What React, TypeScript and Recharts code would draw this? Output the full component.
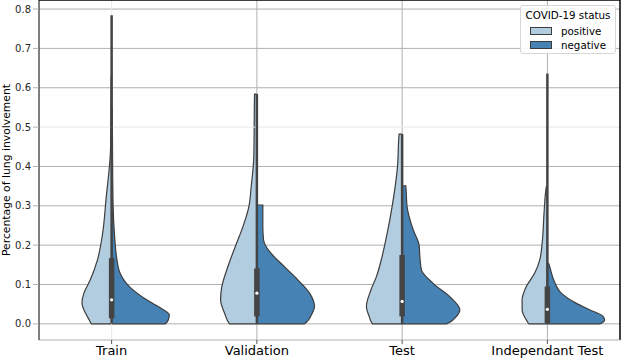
import React from 'react';
import {
  ComposedChart,
  Area,
  Line,
  XAxis,
  YAxis,
  CartesianGrid,
  ReferenceLine,
  ReferenceDot,
} from 'recharts';

const groups = ['Train', 'Validation', 'Test', 'Independant Test'];
const statuses = ['positive', 'negative'];
const yTicks = [0, 0.1, 0.2, 0.3, 0.4, 0.5, 0.6, 0.7, 0.8];

// half-violin outlines: [value, half width in category units]
const positiveShapes: [number, number][][] = [
  [[0, 0.138], [0.01, 0.154], [0.028, 0.181], [0.053, 0.204], [0.078, 0.191], [0.11, 0.149], [0.162, 0.098], [0.23, 0.062], [0.315, 0.039], [0.45, 0.007], [0.63, 0.003]],
  [[0, 0.188], [0.027, 0.222], [0.061, 0.25], [0.095, 0.241], [0.145, 0.2], [0.196, 0.149], [0.247, 0.096], [0.298, 0.055], [0.349, 0.039], [0.425, 0.021], [0.584, 0.016]],
  [[0, 0.204], [0.019, 0.227], [0.044, 0.246], [0.086, 0.215], [0.12, 0.177], [0.171, 0.138], [0.23, 0.103], [0.298, 0.069], [0.399, 0.032], [0.482, 0.021]],
  [[0, 0.126], [0.01, 0.145], [0.036, 0.174], [0.061, 0.174], [0.095, 0.145], [0.129, 0.087], [0.162, 0.053], [0.213, 0.034], [0.281, 0.023], [0.349, 0.007]],
];
const negativeShapes: [number, number][][] = [
  [[0, 0.367], [0.01, 0.39], [0.023, 0.397], [0.036, 0.356], [0.061, 0.241], [0.094, 0.124], [0.13, 0.057], [0.17, 0.034], [0.22, 0.021], [0.3, 0.01], [0.55, 0.003]],
  [[0, 0.328], [0.027, 0.381], [0.044, 0.397], [0.078, 0.363], [0.112, 0.282], [0.145, 0.191], [0.179, 0.098], [0.196, 0.064], [0.213, 0.046], [0.247, 0.041], [0.302, 0.041]],
  [[0, 0.305], [0.019, 0.374], [0.036, 0.397], [0.069, 0.328], [0.103, 0.213], [0.137, 0.133], [0.171, 0.122], [0.2, 0.117], [0.239, 0.076], [0.298, 0.034], [0.351, 0.025]],
  [[0, 0.36], [0.01, 0.394], [0.019, 0.383], [0.036, 0.291], [0.052, 0.2], [0.078, 0.096], [0.112, 0.043], [0.145, 0.016], [0.154, 0.008]],
];

// inner box: whisker ends, quartiles, median
const whiskerLow = [0, 0, 0, 0];
const whiskerHigh = [0.784, 0.584, 0.482, 0.636];
const q1 = [0.014, 0.019, 0.019, 0.002];
const q3 = [0.167, 0.141, 0.175, 0.095];
const medians = [0.061, 0.078, 0.057, 0.037];

const LIGHT = '#b3cde0';
const DARK = '#4682b4';
const EDGE = '#3d3d3d';
const BOX = '#444444';
const GRID = '#b0b0b0';

// closed outline so the flat top and bottom get stroked too
function halfViolin(shape: [number, number][], center: number, side: number) {
  const first = shape[0];
  const last = shape[shape.length - 1];
  const pts = [[first[0], 0], ...shape, [last[0], 0]];
  return pts.map(([v, w]) => ({
    v,
    x: side < 0 ? [center - w, center] : [center, center + w],
  }));
}

const segment = (center: number, a: number, b: number) => [
  { v: a, x: center },
  { v: b, x: center },
];

const YLabel = (props: any) => {
  const vb = props.viewBox;
  const cy = vb.y + vb.height / 2;
  return (
    <text x={10} y={cy} transform={`rotate(-90, 10, ${cy})`} textAnchor="middle" fontSize={10.8} fill="#000">
      Percentage of lung involvement
    </text>
  );
};

export default function App() {
  return (
    <div style={{ position: 'absolute', left: 0, top: 0, width: 622, height: 360, fontFamily: 'DejaVu Sans', background: '#fff' }}>
      <ComposedChart
        width={622}
        height={360}
        layout="vertical"
        margin={{ top: 0, right: 2, bottom: 0, left: 0 }}
        style={{ fontFamily: 'DejaVu Sans' }}
      >
        <CartesianGrid stroke={GRID} strokeWidth={1} horizontalValues={[0, 0.1, 0.2, 0.3, 0.4, 0.6, 0.7, 0.8]} verticalValues={[1, 2, 3]} />
        <ReferenceLine y={0.5} stroke="#e8e8e8" />
        <ReferenceLine x={0} stroke="#e8e8e8" />
        <XAxis
          type="number"
          dataKey="x"
          domain={[-0.5, 3.5]}
          ticks={[0, 1, 2, 3]}
          allowDataOverflow
          tickFormatter={(i: number) => groups[i]}
          tick={{ fontSize: 13, fill: '#000' }}
          tickSize={4}
          tickMargin={2}
          height={20}
          axisLine={{ stroke: GRID }}
          tickLine={{ stroke: '#555' }}
          interval={0}
        />
        <YAxis
          type="number"
          dataKey="v"
          reversed
          domain={[-0.041, 0.823]}
          ticks={yTicks}
          allowDataOverflow
          tickFormatter={(t: number) => t.toFixed(1)}
          tick={{ fontSize: 10, fill: '#262626' }}
          tickSize={6}
          tickMargin={2}
          width={39}
          axisLine={{ stroke: '#000' }}
          tickLine={{ stroke: GRID }}
          label={<YLabel />}
        />
        <ReferenceLine y={0.823} stroke="#000" strokeWidth={1.5} />
        <ReferenceLine x={3.5} stroke="#000" strokeWidth={1.5} />
        {groups.map((g, i) => (
          <Area
            key={'p' + g}
            data={halfViolin(positiveShapes[i], i, -1)}
            dataKey="x"
            type="monotone"
            fill={LIGHT}
            fillOpacity={1}
            stroke={EDGE}
            strokeWidth={1.2}
            isAnimationActive={false}
            name={statuses[0]}
          />
        ))}
        {groups.map((g, i) => (
          <Area
            key={'n' + g}
            data={halfViolin(negativeShapes[i], i, 1)}
            dataKey="x"
            type="monotone"
            fill={DARK}
            fillOpacity={1}
            stroke={EDGE}
            strokeWidth={1.2}
            isAnimationActive={false}
            name={statuses[1]}
          />
        ))}
        {groups.map((g, i) => (
          <Line
            key={'w' + g}
            data={segment(i, whiskerLow[i], whiskerHigh[i])}
            dataKey="x"
            stroke={BOX}
            strokeWidth={2.5}
            dot={false}
            isAnimationActive={false}
          />
        ))}
        {groups.map((g, i) => (
          <Line
            key={'b' + g}
            data={segment(i, q1[i], q3[i])}
            dataKey="x"
            stroke={BOX}
            strokeWidth={5.5}
            dot={false}
            isAnimationActive={false}
          />
        ))}
        {groups.map((g, i) => (
          <ReferenceDot key={'m' + g} x={i} y={medians[i]} r={1.6} fill="#fff" stroke="none" />
        ))}
      </ComposedChart>
      <div
        style={{
          position: 'absolute',
          left: 520,
          top: 5,
          width: 96,
          height: 49,
          border: '1px solid #d6d6d6',
          borderRadius: 3,
          background: 'rgba(255,255,255,0.85)',
          fontSize: 10.3,
          color: '#000',
          boxSizing: 'border-box',
        }}
      >
        <div style={{ position: 'absolute', left: 0, width: '100%', top: 3, textAlign: 'center' }}>COVID-19 status</div>
        {statuses.map((s, k) => (
          <div key={s} style={{ position: 'absolute', left: 9, top: 19 + k * 14, display: 'flex', alignItems: 'center' }}>
            <span style={{ display: 'inline-block', width: 20, height: 6, background: k === 0 ? LIGHT : DARK, border: `1px solid ${EDGE}` }} />
            <span style={{ marginLeft: 9 }}>{s}</span>
          </div>
        ))}
      </div>
    </div>
  );
}
